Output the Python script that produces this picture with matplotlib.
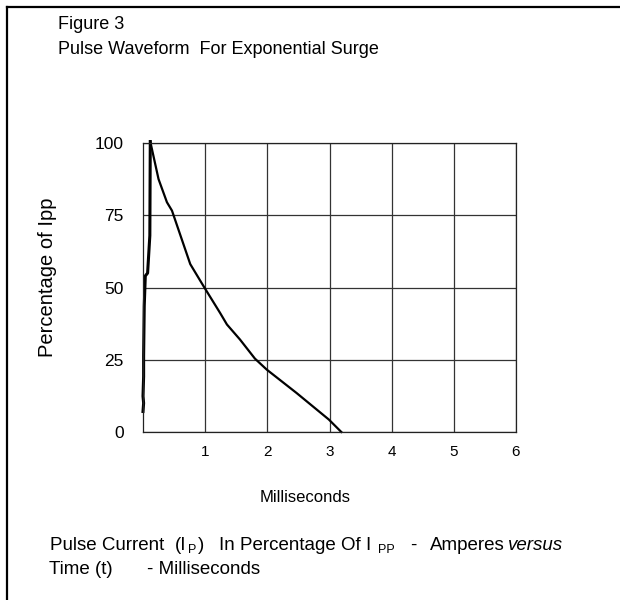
import matplotlib.pyplot as plt
from matplotlib.lines import Line2D

plt.rcParams['font.family'] = ['Liberation Sans', 'DejaVu Sans']

# pulse data (time in ms, percent of Ipp)
rise_t = [0.0, 0.01, 0.0, 0.01, 0.01, 0.02, 0.037, 0.074, 0.11, 0.117]
rise_pct = [7.1, 10, 12.4, 19.2, 26.3, 43.6, 54, 55, 68, 100.5]
decay_t = [0.117, 0.25, 0.385, 0.466, 0.76, 0.97, 1.24, 1.35, 1.56, 1.8, 1.99, 2.47, 2.99, 3.19]
decay_pct = [100.5, 87.5, 79.5, 76.6, 58.1, 50.6, 41.2, 37.2, 32, 25.4, 21.6, 13.5, 4.3, 0]

x_ticks = [1, 2, 3, 4, 5, 6]
y_ticks = [0, 25, 50, 75, 100]

W, H = 620, 600
fig = plt.figure(figsize=(6.2, 6.0), dpi=100)
ax = fig.add_axes([143 / W, 1 - 432 / H, 373 / W, 289 / H])


def put(x, y, s, **kw):
    # place text at pixel position (from top-left), baseline aligned
    kw.setdefault('va', 'baseline')
    fig.text(x / W, 1 - y / H, s, **kw)


ax.plot(rise_t, rise_pct, color='black', lw=2.2, clip_on=False, solid_joinstyle='round')
ax.plot(decay_t, decay_pct, color='black', lw=1.6, clip_on=False, solid_joinstyle='round')

ax.set_xlim(0, 6)
ax.set_ylim(0, 100)
ax.set_xticks(x_ticks)
ax.set_yticks(y_ticks)
ax.tick_params(length=0)
ax.tick_params(axis='x', pad=9, labelsize=11)
ax.tick_params(axis='y', pad=14, labelsize=12.5)
ax.grid(True, color='#333333', lw=0.9)
for s in ax.spines.values():
    s.set_linewidth(0.9)
    s.set_color('#222222')

# y label
put(48, 277, 'Percentage of Ipp', fontsize=14.5, rotation=90, ha='center', va='center')

# header
put(58, 29, 'Figure 3', fontsize=13)
put(58, 54, 'Pulse Waveform  For Exponential Surge', fontsize=13)
put(305, 502, 'Milliseconds', fontsize=12, ha='center')

# caption, pieced together so the subscripts sit where they do in the original
fs = 13.5
put(50, 550, 'Pulse Current', fontsize=fs)
put(175, 550, '(I', fontsize=fs)
put(188, 553, 'P', fontsize=9)
put(198, 550, ')', fontsize=fs)
put(219, 550, 'In Percentage Of I', fontsize=fs)
put(378, 553, 'PP', fontsize=9)
put(410, 550, '-', fontsize=fs)
put(430, 550, 'Amperes', fontsize=fs)
put(508, 550, 'versus', fontsize=fs, style='italic')
put(49, 574, 'Time (t)', fontsize=fs)
put(147, 574, '- Milliseconds', fontsize=fs)

# outer frame (top and left edges)
fig.add_artist(Line2D([7 / W, 1], [1 - 7 / H, 1 - 7 / H], color='black', lw=1.6, transform=fig.transFigure))
fig.add_artist(Line2D([7 / W, 7 / W], [1 - 7 / H, 0], color='black', lw=1.6, transform=fig.transFigure))

fig.savefig('out.png', dpi=100)
